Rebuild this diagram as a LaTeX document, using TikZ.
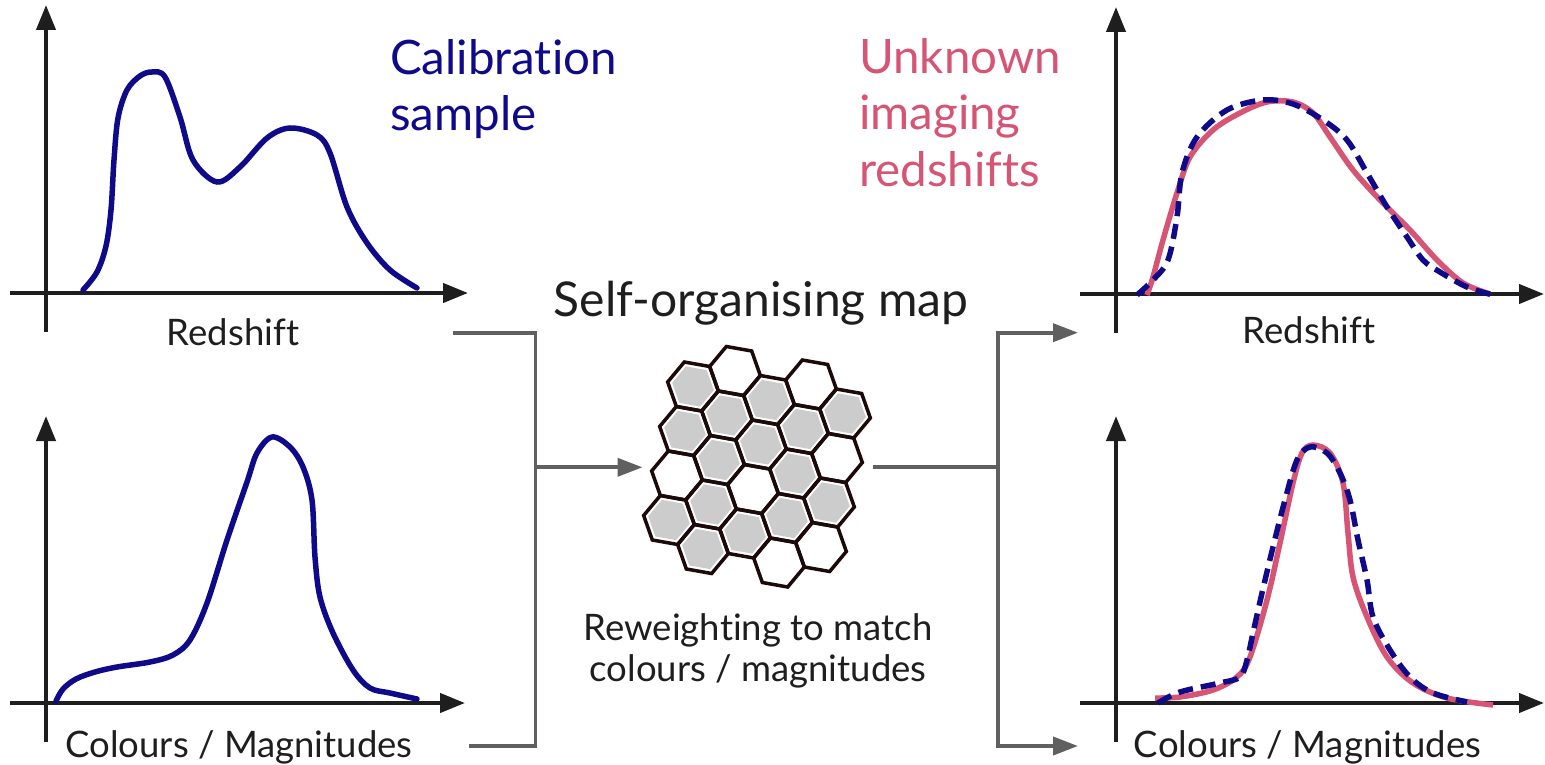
\documentclass[tikz,border=0pt]{standalone}
\usepackage{fontspec}
\setmainfont{Lato}[RawFeature={-liga;-dlig;-clig}]
\usetikzlibrary{arrows.meta}

\definecolor{navy}{RGB}{14,10,138}
\definecolor{rose}{RGB}{214,84,116}
\definecolor{ink}{RGB}{30,30,30}
\definecolor{wire}{RGB}{96,96,96}
\definecolor{cellgray}{RGB}{204,204,204}
\definecolor{celledge}{RGB}{28,10,10}

\begin{document}
\begin{tikzpicture}[x=1pt,y=-1pt,
  plotaxis/.style={draw=ink, line width=4.2pt, -{Triangle[length=25pt,width=19pt]}},
  calcurve/.style={draw=navy, line width=5.5pt, line cap=round},
  calcurvedash/.style={draw=navy, line width=5.5pt, dash pattern=on 15pt off 8pt},
  targetcurve/.style={draw=rose, line width=5.5pt},
  wireline/.style={draw=wire, line width=3.8pt},
  wirearrow/.style={draw=wire, line width=3.8pt, -{Triangle[length=25pt,width=18pt]}},
  biglabel/.style={inner sep=0pt, anchor=base west, font=\fontsize{47.5}{56}\selectfont},
  axlabel/.style={inner sep=0pt, anchor=base, text=ink, font=\fontsize{36.5}{42}\selectfont},
  midlabel/.style={inner sep=0pt, anchor=base, text=ink, font=\fontsize{36.5}{42}\selectfont},
  celloutline/.style={draw=celledge, line width=3.5pt, line join=miter},
]
\useasboundingbox (0,0) rectangle (1545,765);

% ---------- calibration redshift distribution (top left)
\draw[plotaxis] (46,332) -- (46,5);
\draw[plotaxis] (10,293) -- (468,293);
\draw[calcurve] plot[smooth, tension=0.55] coordinates {
  (83,290) (97,272) (106,246) (111,210) (114,160) (118,118) (127,90)
  (140,76) (152,72) (165,77) (180,117) (193,160) (217,182) (240,167)
  (267,138) (290,128) (317,135) (330,153) (347,207) (367,243) (390,270)
  (417,288)};
\node[axlabel] (zcal) at (233,345) {Redshift};

% ---------- calibration colour distribution (bottom left)
\draw[plotaxis] (46,742) -- (46,416);
\draw[plotaxis] (10,703) -- (465,703);
\draw[calcurve] plot[smooth, tension=0.55] coordinates {
  (56,701) (63,689) (76,679) (95,672) (117,667) (150,662) (173,655)
  (190,640) (207,603) (227,540) (247,482) (257,453) (272,437) (290,447)
  (303,467) (312,500) (315,557) (320,597) (333,633) (353,670) (370,688)
  (390,693) (417,699)};
\node[axlabel] (ccal) at (239,757) {Colours / Magnitudes};

% ---------- headings
\node[biglabel, text=navy] (cal1) at (390,74.5) {Calibration};
\node[biglabel, text=navy] (cal2) at (390,130.5) {sample};
\node[biglabel, text=rose] (unk1) at (859,73.5) {Unknown};
\node[biglabel, text=rose] (unk2) at (859,130) {imaging};
\node[biglabel, text=rose] (unk3) at (859,186.5) {redshifts};

\node[inner sep=0pt, anchor=base, text=ink, font=\fontsize{48}{56}\selectfont]
  (somtitle) at (761,316.5) {Self-organising map};
\node[midlabel] (rw1) at (758,640.5) {Reweighting to match};
\node[midlabel] (rw2) at (758,681.5) {colours / magnitudes};

% ---------- self-organising map cells
\foreach \k/\j/\g in {0/0/1,0/1/1,0/2/0,0/3/1,
                      1/-1/0,1/0/1,1/1/1,1/2/1,1/3/1,
                      2/-1/1,2/0/1,2/1/0,2/2/1,
                      3/-2/0,3/-1/1,3/0/1,3/1/1,3/2/0,
                      4/-2/1,4/-1/0,4/0/1,4/1/0}{
  \pgfmathsetmacro\cx{693+34*\k-8*\j}
  \pgfmathsetmacro\cy{386.5+29*\k+44.5*\j}
  \begin{scope}[shift={(\cx,\cy)}]
    \ifnum\g=1
      \fill[cellgray, scale=0.82] (25.33,4.5) -- (16.67,-20) -- (-8.67,-24.5)
        -- (-25.33,-4.5) -- (-16.67,20) -- (8.67,24.5) -- cycle;
    \fi
    \draw[celloutline] (25.33,4.5) -- (16.67,-20) -- (-8.67,-24.5)
      -- (-25.33,-4.5) -- (-16.67,20) -- (8.67,24.5) -- cycle;
  \end{scope}
}
\node[minimum width=230pt, minimum height=240pt, inner sep=0pt] (som) at (757.7,467.3) {};

% ---------- connectors
\coordinate (zout) at (453,333.3);
\coordinate (cout) at (469,746);
\coordinate (ljoin) at (535.5,467.3);
\coordinate (rjoin) at (997.7,467.3);
\coordinate (zin) at (1078,332.7);
\coordinate (cin) at (1078,746);

\draw[wireline] (zout) -| (ljoin) |- (cout);
\draw[wirearrow] (ljoin) -- (som.west);
\draw[wireline] (som.east) -- (rjoin);
\draw[wirearrow] (rjoin) |- (zin);
\draw[wirearrow] (rjoin) |- (cin);

% ---------- recovered redshift distribution (top right)
\draw[plotaxis] (1116,333) -- (1116,7);
\draw[plotaxis] (1080,294) -- (1544,294);
\draw[targetcurve] plot[smooth, tension=0.55] coordinates {
  (1147,295) (1153,277) (1163,240) (1177,193) (1190,157) (1213,130)
  (1240,113) (1267,102) (1293,102) (1313,113) (1330,137) (1353,170)
  (1380,200) (1410,230) (1437,260) (1463,283) (1490,294)};
\draw[calcurvedash] plot[smooth, tension=0.55] coordinates {
  (1137,295) (1153,280) (1168,260) (1177,217) (1182,173) (1197,137)
  (1227,110) (1263,100) (1293,104) (1323,120) (1347,140) (1367,173)
  (1387,207) (1407,237) (1423,260) (1440,272) (1467,287) (1493,295)};
\node[axlabel] (zunk) at (1309,343) {Redshift};

% ---------- matched colour distribution (bottom right)
\draw[plotaxis] (1116,742) -- (1116,416);
\draw[plotaxis] (1080,703) -- (1544,703);
\draw[targetcurve] plot[smooth, tension=0.55] coordinates {
  (1155,698) (1180,697) (1213,690) (1237,677) (1250,657) (1267,600)
  (1280,543) (1293,483) (1302,453) (1313,445) (1330,453) (1343,483)
  (1348,533) (1353,577) (1367,617) (1387,657) (1413,683) (1447,698)
  (1493,705)};
\draw[calcurvedash] plot[smooth, tension=0.55] coordinates {
  (1158,703) (1180,692) (1220,683) (1240,677) (1247,660) (1253,633)
  (1262,593) (1273,547) (1285,500) (1297,460) (1310,447) (1327,453)
  (1340,473) (1350,500) (1358,540) (1367,580) (1373,617) (1390,650)
  (1410,677) (1433,693) (1467,702)};
\node[axlabel] (cunk) at (1307.5,757) {Colours / Magnitudes};
\end{tikzpicture}
\end{document}
